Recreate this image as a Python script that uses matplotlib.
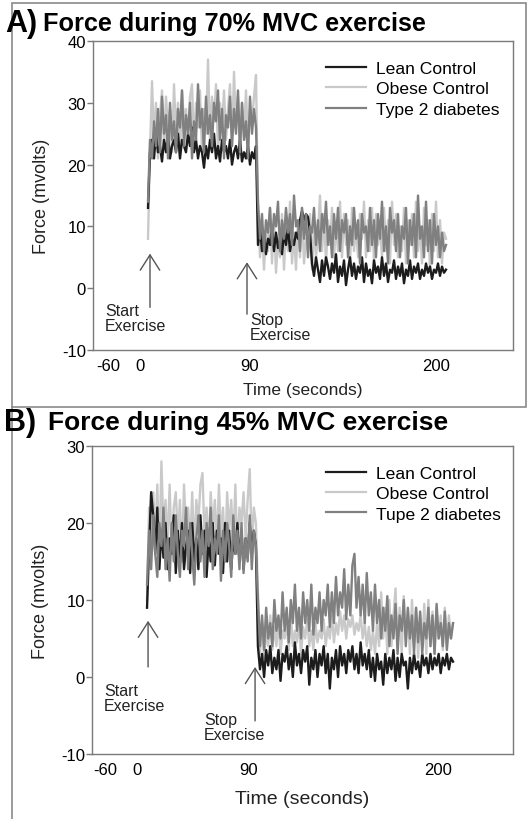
import numpy as np
import matplotlib
matplotlib.use("Agg")
import matplotlib.pyplot as plt
from matplotlib.patches import Rectangle
from matplotlib.lines import Line2D

plt.rcParams["font.family"] = ["Liberation Sans", "DejaVu Sans"]
plt.rcParams["axes.unicode_minus"] = False

# ---- data: force (mvolts), one value per sample, exercise phase then recovery ----
series_names_a = ["Lean Control", "Obese Control", "Type 2 diabetes"]
series_names_b = ["Lean Control", "Obese Control", "Tupe 2 diabetes"]

# 70% MVC
lean_70 = [13, 22, 24, 21, 25, 22, 23, 20.5, 24, 22, 25, 21, 23, 24, 22, 25, 21, 24, 23, 22,
           25, 23, 26, 22, 24, 21, 23, 22, 19.5, 23, 21, 24, 22, 25, 21, 23, 20.5, 24, 22, 23,
           21, 24, 20, 22, 23, 21, 24, 20.5, 22, 21, 23, 20, 22, 21, 23,
           7, 10, 6, 9, 5.5, 8, 7, 10, 6, 9, 6.5, 8, 5.5, 9, 7, 10, 6, 8, 7, 9,
           8, 11, 12.5, 11, 12, 11.5, 9, 4, 2, 5, 3, 1, 4.5, 2, 5, 3.5, 1.5, 4, 2.5, 5.5,
           1, 3.5, 2, 4.5, 0.5, 3, 5, 2, 4, 1.5, 3.5, 2.5, 5, 1, 4, 2, 3, 0.8, 4.5, 2.5,
           3.5, 1.5, 5, 2, 4, 1, 3, 2.5, 4.5, 1.5, 3.5, 2, 4, 0.8, 3, 2, 4.5, 1.5, 3.5, 2.5,
           4, 1.5, 3, 2, 4, 2.5, 3.5, 1.5, 3, 2.5, 4, 2, 3.5, 2.5, 3]
obese_70 = [8, 22, 33.5, 24, 30, 21, 28, 32, 23, 31, 26, 29, 22, 33, 25, 30, 21, 32, 27, 29,
            24, 31, 33, 23, 30, 26, 32, 22, 29, 25, 37, 24, 31, 27, 33, 22, 30, 26, 32, 24,
            29, 33, 23, 35, 26, 31, 22, 30, 25, 32, 23, 29, 27, 31, 34.5,
            12, 5, 10, 3, 9, 6, 13, 4, 11, 2.5, 8, 5, 12, 3, 10, 6, 14, 4, 9, 3,
            11, 5, 13, 4, 8, 6, 12, 3, 10, 5, 9, 15, 6, 12, 4, 11, 7, 13, 5, 10,
            6, 14, 5, 12, 7, 11, 4, 13, 6, 10, 5, 12, 8, 14, 5, 11, 6, 13, 4, 12,
            7, 10, 5, 13, 6, 11, 4, 14, 7, 12, 5, 10, 6, 13, 4, 11, 7, 12, 5, 14,
            6, 10, 4, 13, 7, 11, 3, 12, 6, 14, 5, 11, 4, 9, 8]
t2d_70 = [14, 24, 21, 27, 23, 29, 22, 31, 25, 28, 21, 30, 24, 27, 22, 29, 26, 32, 23, 28,
          25, 30, 21, 27, 24, 33, 26, 29, 22, 31, 25, 28, 23, 30, 27, 32, 24, 29, 21, 28,
          26, 31, 23, 29, 25, 32, 22, 30, 24, 27, 21, 31, 25, 29, 26,
          14, 8, 12, 6, 11, 9, 13, 7, 12, 10, 14, 6, 11, 8, 13, 9, 12, 7, 15, 10,
          11, 6, 13, 8, 12, 5, 10, 9, 13, 7, 11, 6, 12, 9, 14, 7, 10, 5, 12, 8,
          13, 6, 11, 9, 12, 5, 10, 7, 13, 8, 11, 4, 12, 9, 10, 6, 13, 7, 11, 5,
          12, 8, 14, 6, 10, 4, 13, 9, 11, 6, 12, 5, 10, 8, 13, 4, 11, 7, 12, 5,
          15, 8, 10, 5, 14, 6, 11, 4, 12, 7, 10, 5, 9, 6, 7]

# 45% MVC
lean_45 = [9, 17, 24, 21, 16, 22, 14, 19, 15.5, 20, 14, 18, 16, 21, 13.5, 19, 15, 20, 14, 17,
           19, 13.5, 20, 15, 18, 14, 21, 16, 19, 13, 18, 15, 20, 14.5, 19, 16, 18, 13.5, 20, 15,
           19, 14, 18, 16, 20, 15, 19, 14, 18, 15.5, 20, 16, 19, 17,
           4, 1, 3, 0, 3.5, 1.5, 4, 0.5, 2.5, 1, 3.5, -0.5, 3, 2, 4, 1, 3, 0, 4.5, 1.5,
           3, 0.5, 3.5, 2, 4, -1, 2.5, 1, 3.5, 0, 3, 1.5, 4, 0.5, 3, -1.5, 2.5, 1, 3.5, 0,
           4, 1.5, 3, 0.5, 3.5, 2, 4, 1, 3, 0.5, 4.5, 1.5, 3, 1, 3.5, 0, 2.5, -0.5, 3, 1,
           2, -1, 3, 0.5, 2.5, 1, 3.5, -0.5, 2.5, 0, 3, 1.5, 2, -1.5, 2.5, 0.5, 3, 1, 2, 0,
           3, 1.5, 2.5, 0.5, 3, 1, 2.5, 1.5, 3, 0.5, 2.5, 1.5, 3, 1, 2.5, 2]
obese_45 = [10, 22, 16, 24, 18, 25, 15, 28, 19, 23, 17, 25, 16, 22, 24, 18, 23, 15, 25, 19,
            22, 17, 24, 16, 23, 20, 25, 26.5, 18, 22, 16, 24, 19, 23, 17, 25, 18, 22, 15, 24,
            19, 23, 17, 25, 16, 22, 20, 24, 18, 23, 27, 17, 22, 20,
            11, 3, 7, 2.5, 6, 4, 8, 3.5, 6.5, 4, 7.5, 3, 6, 5, 7, 3.5, 8, 4, 6, 4.5,
            7, 3, 6.5, 5, 7.5, 4, 6, 3.5, 7, 4.5, 6, 5, 7.5, 4, 6.5, 5, 8, 4.5, 7, 5.5,
            8.5, 6, 8, 5, 7.5, 6.5, 8, 5.5, 7, 6, 8, 5, 7, 4, 6.5, 3.5, 6, 3, 7, 4,
            11, 5, 9, 3, 10, 4, 8, 11.5, 4, 9, 3, 10.5, 5, 8.5, 3, 10, 4, 9, 2.5, 8,
            4, 9.5, 3, 10, 4, 8.5, 3, 9, 5, 8, 3.5, 9, 4, 8, 5, 7]
t2d_45 = [12, 19, 14, 21, 16, 13, 20, 17, 22, 14, 18, 12.5, 20, 15, 21, 16, 13, 19, 17, 22,
          14, 20, 16, 12, 18, 21, 15, 19, 13, 20, 17, 22, 14, 18, 16, 21, 12.5, 19, 15, 20,
          17, 13, 21, 16, 19, 14, 20, 13.5, 18, 15, 21, 14, 19, 17,
          10, 4, 8, 3.5, 9, 5, 7, 4, 10, 6, 8, 5, 11, 6, 9, 4.5, 10, 7, 12, 6,
          9, 5, 11, 7, 10, 6, 12, 5.5, 9, 7, 11, 6, 10, 8, 12, 6.5, 11, 7, 13, 8,
          11, 9, 14, 7.5, 12, 8, 14.5, 16, 9, 13, 8, 12, 7, 13.5, 8, 11, 6, 12, 7, 10,
          5, 9, 6, 10.5, 4, 8, 5, 9.5, 3, 8, 6, 10, 4, 9, 5, 8, 3, 9, 4.5, 8.5,
          3, 7, 5, 9, 4, 8, 3, 9.5, 5, 7, 4, 8.5, 3.5, 7, 5, 7]

x_tick_labels = ["-60", "0", "90", "200"]
y_ticks_a = [-10, 0, 10, 20, 30, 40]
y_ticks_b = [-10, 0, 10, 20, 30]

colors = ["#1c1c1c", "#c9c9c9", "#808080"]
draw_order = [1, 0, 2]  # obese under lean, type 2 on top

fig = plt.figure(figsize=(5.29, 8.2), dpi=100)
W, H = 529, 820


def frac_box(l, t, r, b):
    return [l / W, 1 - b / H, (r - l) / W, (b - t) / H]


def panel(box, series, names, yticks, ylim, xticks, xlim, start_xy, start_txt, stop_xy, stop_txt,
          xlabel_size=12.5, xlabel_pad=6):
    ax = fig.add_axes(frac_box(*box))
    for z, k in enumerate(draw_order):
        y = np.asarray(series[k], dtype=float)
        ax.plot(np.arange(len(y)), y, color=colors[k], lw=1.7, zorder=2 + z)
    ax.set_xlim(*xlim)
    ax.set_ylim(*ylim)
    ax.set_yticks(yticks)
    ax.set_xticks(xticks)
    ax.set_xticklabels(x_tick_labels)
    for s in ax.spines.values():
        s.set_color("#7a7a7a")
        s.set_linewidth(1.0)
    ax.tick_params(axis="y", length=4, width=1, color="#7a7a7a", labelsize=12, pad=1)
    ax.tick_params(axis="x", length=0, labelsize=12, pad=6)
    ax.set_ylabel("Force (mvolts)", fontsize=13, labelpad=9, color="#222222")
    ax.set_xlabel("Time (seconds)", fontsize=xlabel_size, labelpad=xlabel_pad, color="#222222")

    handles = [Line2D([], [], color=colors[k], lw=1.6) for k in range(3)]
    ax.legend(handles, names, loc="upper left", bbox_to_anchor=(0.555, 0.935),
              frameon=False, fontsize=12.6, handlelength=2.3, handletextpad=0.55,
              labelspacing=0.28, borderpad=0, borderaxespad=0)

    arrow = dict(arrowstyle="->,head_length=1.1,head_width=0.7", color="#555555", lw=1.0,
                 shrinkA=0, shrinkB=0)
    ax.annotate("", xy=start_xy[1], xytext=start_xy[0], arrowprops=arrow)
    ax.annotate("", xy=stop_xy[1], xytext=stop_xy[0], arrowprops=arrow)
    ax.text(start_txt[0], start_txt[1], "Start\nExercise", fontsize=11.5, va="top", ha="left",
            linespacing=1.0, color="#222222")
    ax.text(stop_txt[0], stop_txt[1], "Stop\nExercise", fontsize=11.5, va="top", ha="left",
            linespacing=1.0, color="#222222")
    return ax


panel((93, 42, 513, 351), [lean_70, obese_70, t2d_70], series_names_a,
      y_ticks_a, (-10, 40), [-20, -4, 51, 144], (-27.5, 182.5),
      ((1, -3.1), (1, 5.6)), (-21.5, -2.4),
      ((49.5, -4.2), (49.5, 4.2)), (51, -3.8))

panel((92, 447, 513, 755), [lean_45, obese_45, t2d_45], series_names_b,
      y_ticks_b, (-10, 30), [-20.4, -4.9, 49.2, 141.7], (-26.8, 178.2),
      ((0.5, 1.3), (0.5, 7.3)), (-20.9, -0.8),
      ((52.6, -5.7), (52.6, 1.3)), (27.7, -4.6),
      xlabel_size=14, xlabel_pad=9)

# titles
fig.text(5 / W, 1 - 32 / H, "A)", fontsize=22, fontweight="bold", va="baseline")
fig.text(43 / W, 1 - 31 / H, "Force during 70% MVC exercise", fontsize=18.2, fontweight="bold",
         va="baseline")
fig.text(4 / W, 1 - 431 / H, "B)", fontsize=22, fontweight="bold", va="baseline")
fig.text(48 / W, 1 - 430 / H, "Force during 45% MVC exercise", fontsize=19, fontweight="bold",
         va="baseline")

# panel frames
fig.add_artist(Rectangle((12 / W, 1 - 408 / H), 514 / W, 404 / H, transform=fig.transFigure,
                         fill=False, edgecolor="#8a8a8a", lw=1.2))
fig.add_artist(Line2D([12 / W, 12 / W], [0, 1 - 408 / H], transform=fig.transFigure,
                      color="#8a8a8a", lw=1.2))

fig.savefig("out.png", dpi=100)
